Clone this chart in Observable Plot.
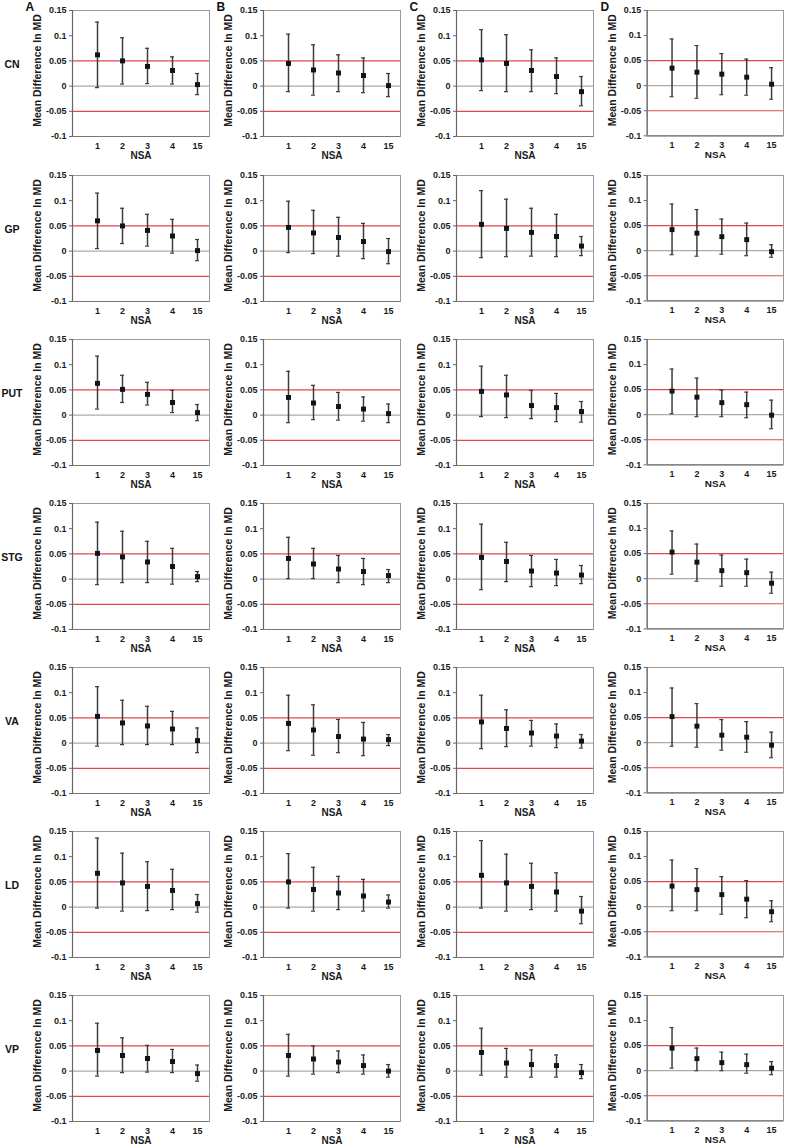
<!DOCTYPE html>
<html><head><meta charset="utf-8">
<script src="https://cdn.jsdelivr.net/npm/d3@7"></script>
<script src="https://cdn.jsdelivr.net/npm/@observablehq/plot@0.6"></script>
<style>
body{margin:0;background:#fff;}
#chart{position:relative;width:787px;height:1146px;font-family:Arial,"Liberation Sans",sans-serif;}
.rowlab{position:absolute;font-weight:bold;font-size:10.5px;color:#111;transform:translate(-50%,-50%);white-space:nowrap;}
.panel{position:absolute;}
.panel svg{overflow:visible;}
</style></head><body><div id="chart"></div>
<script>
const regions = ["CN","GP","PUT","STG","VA","LD","VP"];
const columns = ["A","B","C","D"];
const nsa = ["1","2","3","4","15"];
const yTicks = [-0.1,-0.05,0,0.05,0.1,0.15];
const refLines = [0.05,-0.05];
const yTitle = "Mean Difference In MD";
const xTitle = "NSA";

// rows: CN, GP, PUT, STG, VA, LD, VP ; values for NSA 1,2,3,4,15
const mean_A = [
  [0.062,0.050,0.039,0.031,0.003],
  [0.060,0.050,0.041,0.030,0.001],
  [0.063,0.051,0.041,0.025,0.005],
  [0.051,0.044,0.034,0.025,0.005],
  [0.053,0.040,0.034,0.028,0.005],
  [0.067,0.048,0.041,0.033,0.007],
  [0.041,0.031,0.025,0.019,-0.005]];
const hi_A = [
  [0.127,0.096,0.075,0.058,0.025],
  [0.115,0.085,0.073,0.063,0.023],
  [0.117,0.079,0.065,0.049,0.021],
  [0.113,0.095,0.075,0.061,0.015],
  [0.112,0.085,0.073,0.063,0.030],
  [0.137,0.107,0.090,0.075,0.025],
  [0.095,0.066,0.051,0.043,0.012]];
const lo_A = [
  [-0.003,0.004,0.005,0.004,-0.017],
  [0.005,0.015,0.010,-0.004,-0.019],
  [0.012,0.025,0.020,0.005,-0.011],
  [-0.011,-0.007,-0.007,-0.010,-0.005],
  [-0.006,-0.003,-0.003,-0.003,-0.019],
  [-0.002,-0.008,-0.007,-0.005,-0.010],
  [-0.010,-0.003,-0.002,-0.003,-0.020]];

const mean_B = [
  [0.045,0.032,0.026,0.021,0.001],
  [0.047,0.036,0.027,0.019,-0.001],
  [0.035,0.024,0.017,0.012,0.003],
  [0.041,0.030,0.020,0.015,0.007],
  [0.039,0.026,0.013,0.008,0.007],
  [0.050,0.035,0.028,0.022,0.010],
  [0.031,0.024,0.018,0.011,0.000]];
const hi_B = [
  [0.103,0.082,0.062,0.056,0.025],
  [0.099,0.081,0.067,0.055,0.025],
  [0.087,0.059,0.045,0.036,0.022],
  [0.083,0.061,0.047,0.041,0.019],
  [0.095,0.076,0.047,0.041,0.017],
  [0.106,0.079,0.061,0.055,0.024],
  [0.073,0.050,0.040,0.032,0.013]];
const lo_B = [
  [-0.011,-0.018,-0.011,-0.013,-0.021],
  [-0.003,-0.005,-0.010,-0.015,-0.025],
  [-0.015,-0.009,-0.010,-0.012,-0.015],
  [0.001,0.001,-0.007,-0.011,-0.007],
  [-0.015,-0.024,-0.019,-0.025,-0.005],
  [-0.002,-0.008,-0.005,-0.008,-0.002],
  [-0.010,-0.006,-0.003,-0.006,-0.012]];

const mean_C = [
  [0.052,0.045,0.031,0.019,-0.011],
  [0.053,0.045,0.037,0.029,0.010],
  [0.047,0.040,0.019,0.015,0.007],
  [0.043,0.035,0.016,0.012,0.008],
  [0.042,0.029,0.020,0.014,0.004],
  [0.063,0.048,0.041,0.030,-0.008],
  [0.037,0.016,0.013,0.011,-0.003]];
const hi_C = [
  [0.112,0.102,0.072,0.056,0.019],
  [0.120,0.103,0.085,0.073,0.029],
  [0.097,0.079,0.049,0.043,0.027],
  [0.109,0.073,0.047,0.039,0.027],
  [0.095,0.066,0.045,0.038,0.017],
  [0.132,0.105,0.087,0.068,0.021],
  [0.085,0.045,0.042,0.032,0.013]];
const lo_C = [
  [-0.009,-0.011,-0.011,-0.015,-0.039],
  [-0.013,-0.011,-0.010,-0.011,-0.009],
  [-0.003,-0.005,-0.007,-0.013,-0.014],
  [-0.021,-0.005,-0.015,-0.013,-0.009],
  [-0.011,-0.007,-0.006,-0.009,-0.010],
  [-0.002,-0.008,-0.005,-0.008,-0.033],
  [-0.008,-0.012,-0.012,-0.012,-0.015]];

const mean_D = [
  [0.035,0.027,0.023,0.017,0.003],
  [0.042,0.035,0.028,0.022,-0.002],
  [0.047,0.035,0.024,0.020,-0.001],
  [0.053,0.033,0.016,0.012,-0.009],
  [0.052,0.033,0.015,0.011,-0.005],
  [0.041,0.034,0.024,0.015,-0.010],
  [0.045,0.024,0.016,0.012,0.005]];
const hi_D = [
  [0.093,0.080,0.064,0.053,0.036],
  [0.093,0.082,0.063,0.055,0.012],
  [0.091,0.073,0.049,0.045,0.029],
  [0.095,0.069,0.047,0.039,0.013],
  [0.109,0.078,0.046,0.042,0.021],
  [0.093,0.076,0.060,0.052,0.012],
  [0.086,0.045,0.037,0.033,0.018]];
const lo_D = [
  [-0.022,-0.025,-0.018,-0.019,-0.027],
  [-0.008,-0.011,-0.007,-0.010,-0.013],
  [0.002,-0.004,-0.004,-0.006,-0.028],
  [0.009,-0.005,-0.015,-0.015,-0.029],
  [-0.007,-0.009,-0.015,-0.019,-0.030],
  [-0.008,-0.008,-0.015,-0.022,-0.030],
  [0.005,0.000,0.000,-0.005,-0.008]];

const means = {A: mean_A, B: mean_B, C: mean_C, D: mean_D};
const his = {A: hi_A, B: hi_B, C: hi_C, D: hi_D};
const los = {A: lo_A, B: lo_B, C: lo_C, D: lo_D};

// layout
const frameLeft = [72, 263, 456, 647];
const frameTop = [10, 175, 339, 503, 667, 831, 995];
const FW = 137, FH = 126;
const mL = 72, mR = 4, mT = 10, mB = 34;

const chart = document.getElementById("chart");

regions.forEach((reg, r) => {
  const rl = document.createElement("div");
  rl.className = "rowlab";
  rl.textContent = reg;
  rl.style.left = "12px";
  rl.style.top = (frameTop[r] + 54) + "px";
  chart.appendChild(rl);

  columns.forEach((col, c) => {
    const data = nsa.map((k, i) => ({
      pos: i + 1,
      label: k,
      mean: means[col][r][i],
      hi: his[col][r][i],
      lo: los[col][r][i]
    }));
    const marks = [
      Plot.frame({stroke: "#9a9a9a", strokeWidth: 1}),
      Plot.ruleY([0], {stroke: "#ababab", strokeWidth: 1.2}),
      Plot.ruleY(refLines, {stroke: "#e4474b", strokeWidth: 1.2}),
      Plot.ruleX([0], {stroke: "#666", strokeWidth: 1.2}),
      Plot.ruleY([-0.1], {stroke: "#777", strokeWidth: 1.2}),
      Plot.axisY({ticks: yTicks, tickSize: 3, tickPadding: 3, stroke: "#666",
        tickFormat: d => d === 0 ? "0" : String(d), label: null}),
      Plot.axisX({ticks: data.map(d => d.pos), tickSize: 0, tickPadding: 6,
        tickFormat: v => nsa[v - 1], label: null}),
      Plot.text([yTitle], {frameAnchor: "left", textAnchor: "middle", rotate: -90, dx: -35, dy: -3, text: d => d, fontSize: 10.5, fontWeight: "bold"}),
      Plot.text([xTitle], {frameAnchor: "bottom", dy: 22, text: d => d, fontSize: 10, fontWeight: "bold"}),
      Plot.ruleX(data, {x: "pos", y1: "lo", y2: "hi", stroke: "#3c3c3c", strokeWidth: 1.5}),
      Plot.ruleY(data, {y: "hi", x1: d => d.pos - 0.08, x2: d => d.pos + 0.08, stroke: "#3c3c3c", strokeWidth: 1.2}),
      Plot.ruleY(data, {y: "lo", x1: d => d.pos - 0.08, x2: d => d.pos + 0.08, stroke: "#3c3c3c", strokeWidth: 1.2}),
      Plot.dot(data, {x: "pos", y: "mean", symbol: "square", r: 2.8, fill: "#0c1420", stroke: "none"})
    ];
    if (r === 0) {
      marks.push(Plot.text([col], {frameAnchor: "top-left", dx: -47, dy: -3, textAnchor: "start", lineAnchor: "middle", text: d => d, fontSize: 12, fontWeight: "bold", fill: "#111"}));
    }
    const p = Plot.plot({
      width: mL + FW + mR,
      height: mT + FH + mB,
      marginLeft: mL, marginRight: mR, marginTop: mT, marginBottom: mB,
      style: {background: "transparent", fontFamily: "Arial, 'Liberation Sans', sans-serif", fontSize: "9px", fontWeight: "bold", color: "#1a1a1a", overflow: "visible"},
      x: {domain: [0, 5.48]},
      y: {domain: [-0.1, 0.15]},
      marks
    });
    const wrap = document.createElement("div");
    wrap.className = "panel";
    wrap.style.left = (frameLeft[c] - mL) + "px";
    wrap.style.top = (frameTop[r] - mT) + "px";
    wrap.appendChild(p);
    chart.appendChild(wrap);
  });
});
</script></body></html>
